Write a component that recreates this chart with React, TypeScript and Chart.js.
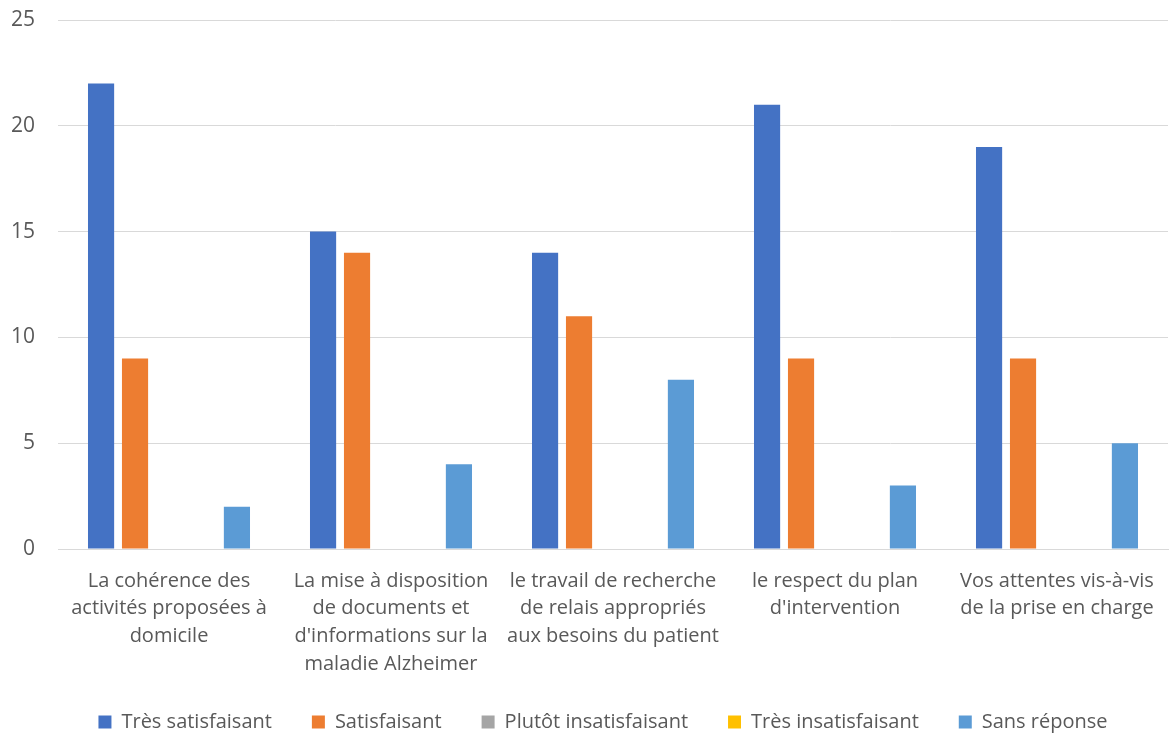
import React, { useEffect, useRef } from "react";
import { Chart, registerables } from "chart.js";

Chart.register(...registerables);

const categories: string[][] = [
  ["La cohérence des", "activités proposées à", "domicile"],
  ["La mise à disposition", "de documents et", "d'informations sur la", "maladie Alzheimer"],
  ["le travail de recherche", "de relais appropriés", "aux besoins du patient"],
  ["le respect du plan", "d'intervention"],
  ["Vos attentes vis-à-vis", "de la prise en charge"],
];

const seriesNames = [
  "Très satisfaisant",
  "Satisfaisant",
  "Plutôt insatisfaisant",
  "Très insatisfaisant",
  "Sans réponse",
];

const tresSatisfaisant = [22, 15, 14, 21, 19];
const satisfaisant = [9, 14, 11, 9, 9];
const plutotInsatisfaisant = [0, 0, 0, 0, 0];
const tresInsatisfaisant = [0, 0, 0, 0, 0];
const sansReponse = [2, 4, 8, 3, 5];

const seriesColors = ["#4472C4", "#ED7D31", "#A5A5A5", "#FFC000", "#5B9BD5"];

const yTicks = [0, 5, 10, 15, 20, 25];

const shiftLegend = {
  id: "shiftLegend",
  afterLayout(chart: any) {
    if (chart.legend) {
      chart.legend.left += 15;
      chart.legend.right += 15;
    }
  },
};

export default function App() {
  const ref = useRef<HTMLCanvasElement | null>(null);

  useEffect(() => {
    if (!ref.current) return;
    const values = [tresSatisfaisant, satisfaisant, plutotInsatisfaisant, tresInsatisfaisant, sansReponse];
    const family = "'Open Sans', sans-serif";
    const chart = new Chart(ref.current, {
      type: "bar",
      data: {
        labels: categories,
        datasets: values.map((v, i) => ({
          label: seriesNames[i],
          data: v,
          backgroundColor: seriesColors[i],
          borderWidth: 0,
          barPercentage: 0.77,
          categoryPercentage: 0.765,
        })),
      },
      plugins: [shiftLegend],
      options: {
        animation: false,
        responsive: true,
        maintainAspectRatio: false,
        layout: { padding: { top: 20, left: 8, right: 2, bottom: -6 } },
        plugins: {
          tooltip: { enabled: false },
          legend: {
            position: "bottom",
            labels: {
              boxWidth: 13,
              boxHeight: 13,
              padding: 40,
              color: "#595959",
              font: { family, size: 20 },
            },
          },
        },
        scales: {
          x: {
            grid: { display: false },
            border: { display: true, color: "#D9D9D9", width: 1 },
            ticks: {
              color: "#595959",
              font: { family, size: 20, lineHeight: 1.385 },
              padding: 10,
              maxRotation: 0,
              autoSkip: false,
            },
            afterFit: (scale: any) => {
              scale.height = 123;
            },
          },
          y: {
            min: 0,
            max: 25,
            afterBuildTicks: (scale: any) => {
              scale.ticks = yTicks.map((v) => ({ value: v }));
            },
            grid: { color: "#D9D9D9", lineWidth: 1, drawTicks: false },
            border: { display: false },
            ticks: {
              color: "#595959",
              font: { family, size: 21 },
              padding: 23,
            },
            afterFit: (scale: any) => {
              scale.width = 50;
              scale.paddingTop = 0;
              scale.paddingBottom = 0;
            },
          },
        },
      },
    });
    return () => chart.destroy();
  }, []);

  return (
    <div style={{ position: "fixed", left: 0, top: 0, width: 1170, height: 736, background: "#fff" }}>
      <canvas ref={ref} />
    </div>
  );
}
